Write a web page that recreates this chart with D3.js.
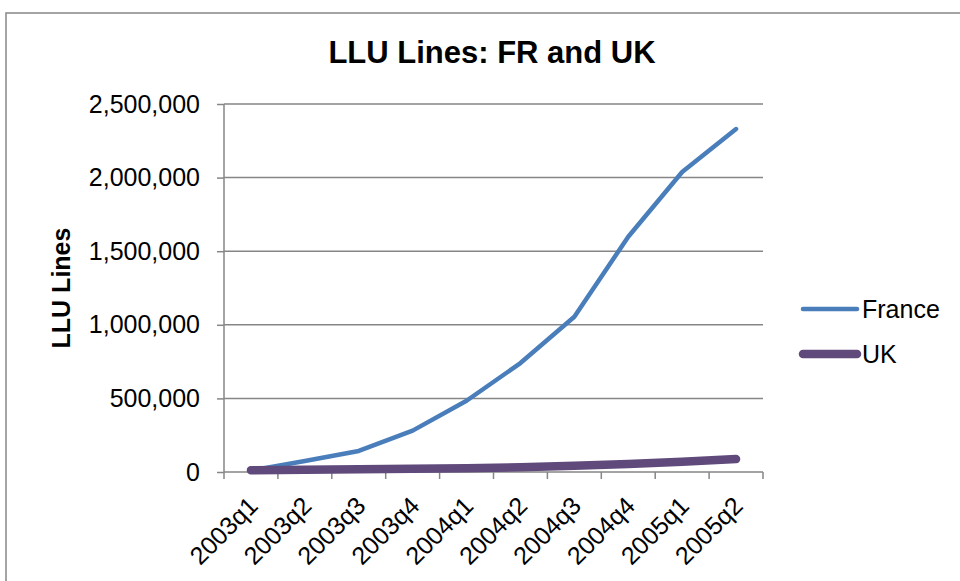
<!DOCTYPE html>
<html>
<head>
<meta charset="utf-8">
<script src="https://cdn.jsdelivr.net/npm/d3@7"></script>
<style>
  html, body { margin: 0; padding: 0; background: #fff; }
  svg { display: block; font-family: "Liberation Sans", Arial, sans-serif; }
</style>
</head>
<body>
<svg id="chart" width="960" height="581"></svg>
<script>
// Quarterly local-loop-unbundled line counts
const quarters = ["2003q1", "2003q2", "2003q3", "2003q4", "2004q1", "2004q2", "2004q3", "2004q4", "2005q1", "2005q2"];
const france = [10000, 75000, 143000, 281000, 484000, 740000, 1055000, 1598000, 2038000, 2330000];
const uk = [12000, 16000, 19000, 22000, 25000, 32000, 43000, 54000, 70000, 88000];
const yTicks = [0, 500000, 1000000, 1500000, 2000000, 2500000];
const seriesNames = ["France", "UK"];

const W = 960, H = 581;
const plot = { left: 224, right: 763, top: 104, bottom: 472 };
const gridColor = "#868686";

const svg = d3.select("#chart");

// outer chart frame (only top and left edges fall inside the view)
svg.append("path")
  .attr("d", `M6,${H + 2}V13H${W + 2}`)
  .attr("fill", "none")
  .attr("stroke", "#878787")
  .attr("stroke-width", 1.5);

const x = d3.scaleBand().domain(quarters).range([plot.left, plot.right]).padding(0);
const y = d3.scaleLinear().domain([0, 2500000]).range([plot.bottom, plot.top]);

// horizontal gridlines
svg.append("g")
  .selectAll("line")
  .data(yTicks.filter(d => d > 0))
  .join("line")
  .attr("x1", plot.left).attr("x2", plot.right)
  .attr("y1", d => y(d)).attr("y2", d => y(d))
  .attr("stroke", gridColor).attr("stroke-width", 1.5);

// y axis
const yAxis = svg.append("g")
  .attr("transform", `translate(${plot.left},0)`)
  .call(d3.axisLeft(y).tickValues(yTicks).tickSize(7).tickPadding(17)
    .tickFormat(d3.format(",")));
yAxis.selectAll("path, line").attr("stroke", gridColor).attr("stroke-width", 1.5);
yAxis.select(".domain").attr("d", `M0,${plot.top}V${plot.bottom}`);
yAxis.selectAll("text")
  .attr("font-size", 25).attr("fill", "#000")
  .attr("font-family", "Liberation Sans, Arial, sans-serif");

// x axis: ticks at category boundaries
const xAxisG = svg.append("g").attr("transform", `translate(0,${plot.bottom})`);
xAxisG.append("line")
  .attr("x1", plot.left).attr("x2", plot.right)
  .attr("stroke", gridColor).attr("stroke-width", 1.5);
const boundaries = quarters.map(q => x(q)).concat([x(quarters[quarters.length - 1]) + x.bandwidth()]);
xAxisG.selectAll("line.tick")
  .data(boundaries)
  .join("line")
  .attr("class", "tick")
  .attr("x1", d => d).attr("x2", d => d)
  .attr("y1", 0).attr("y2", 7)
  .attr("stroke", gridColor).attr("stroke-width", 1.5);

xAxisG.selectAll("text")
  .data(quarters)
  .join("text")
  .attr("transform", d => `translate(${x(d) + x.bandwidth() / 2 + 2},${29}) rotate(-45)`)
  .attr("text-anchor", "end")
  .attr("dominant-baseline", "central")
  .attr("font-size", 25)
  .attr("fill", "#000")
  .text(d => d);

// series lines
const line = d3.line()
  .x((d, i) => x(quarters[i]) + x.bandwidth() / 2)
  .y(d => y(d));

const series = [
  { name: seriesNames[0], values: france, color: "#4a7ebb", width: 4.5 },
  { name: seriesNames[1], values: uk, color: "#604a7b", width: 8.5 }
];

svg.append("g")
  .selectAll("path")
  .data(series)
  .join("path")
  .attr("d", d => line(d.values))
  .attr("fill", "none")
  .attr("stroke", d => d.color)
  .attr("stroke-width", d => d.width)
  .attr("stroke-linecap", "round")
  .attr("stroke-linejoin", "round");

// title
svg.append("text")
  .attr("x", 492).attr("y", 63)
  .attr("text-anchor", "middle")
  .attr("font-size", 31).attr("font-weight", "bold")
  .attr("fill", "#000")
  .text("LLU Lines: FR and UK");

// y axis title
svg.append("text")
  .attr("transform", "translate(70,288) rotate(-90)")
  .attr("text-anchor", "middle")
  .attr("font-size", 25).attr("font-weight", "bold")
  .attr("fill", "#000")
  .text("LLU Lines");

// legend
const legend = svg.append("g")
  .selectAll("g")
  .data(series)
  .join("g")
  .attr("transform", (d, i) => `translate(803,${309 + i * 45})`);
legend.append("line")
  .attr("x1", 0).attr("x2", 54)
  .attr("stroke", d => d.color)
  .attr("stroke-width", d => d.width)
  .attr("stroke-linecap", "round");
legend.append("text")
  .attr("x", 59).attr("y", 0)
  .attr("dominant-baseline", "central")
  .attr("font-size", 25)
  .attr("fill", "#000")
  .text(d => d.name);
</script>
</body>
</html>
